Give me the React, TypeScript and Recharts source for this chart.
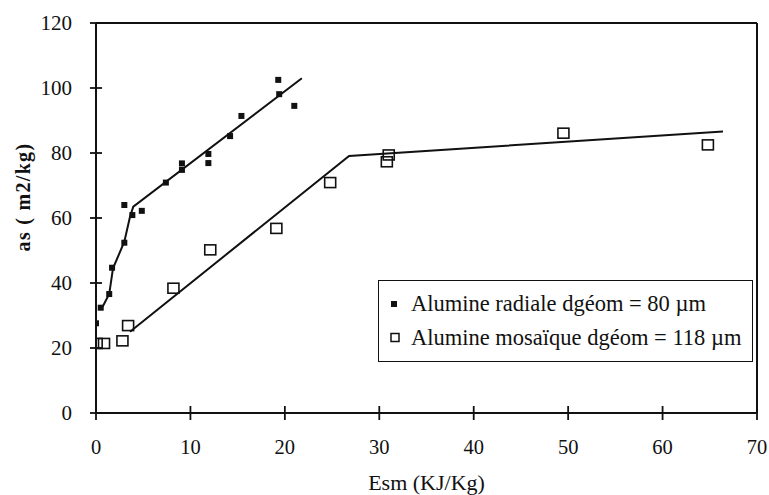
import React from "react";
import {
  ComposedChart,
  Scatter,
  XAxis,
  YAxis,
  ReferenceLine,
  Label,
} from "recharts";

// Alumine radiale dgéom = 80 µm (filled squares)
const radialeX = [0, 0.5, 1.4, 1.7, 3.0, 3.0, 3.85, 4.85, 7.4, 9.1, 9.1, 11.9, 11.9, 14.2, 15.4, 19.3, 19.4, 21.0];
const radialeY = [27.6, 32.4, 36.6, 44.7, 52.4, 64.0, 60.9, 62.2, 70.9, 76.8, 74.8, 79.7, 76.9, 85.2, 91.4, 102.5, 98.1, 94.5];
const radialeFitX = [0.7, 1.4, 1.8, 3.0, 3.6, 3.95, 21.8];
const radialeFitY = [32.7, 36.6, 44.5, 52.7, 60.4, 63.5, 103];

// Alumine mosaïque dgéom = 118 µm (open squares)
const mosaiqueX = [0.07, 0.85, 2.8, 3.4, 8.2, 12.1, 19.1, 24.8, 30.8, 31.0, 49.5, 64.8];
const mosaiqueY = [21.4, 21.4, 22.2, 26.9, 38.4, 50.2, 56.8, 70.9, 77.3, 79.4, 86.1, 82.5];
const mosaiqueFitX = [3.6, 26.8, 66.4];
const mosaiqueFitY = [25, 79.1, 86.6];

const xTicks = [0, 10, 20, 30, 40, 50, 60, 70];
const yTicks = [0, 20, 40, 60, 80, 100, 120];

const legendLabels = ["Alumine radiale dgéom = 80 µm", "Alumine mosaïque dgéom = 118 µm"];

const toPoints = (xs: number[], ys: number[]) => xs.map((x, i) => ({ x, y: ys[i] }));

const INK = "#111";
const FONT = "Liberation Serif";

function XTick(props: any) {
  const { x, y, payload } = props;
  const axisY = y - 26;
  return (
    <g>
      <line x1={x} x2={x} y1={axisY - 7} y2={axisY + 7} stroke={INK} strokeWidth={1.8} />
      <text className="serif" x={x} y={y} dy="0.71em" textAnchor="middle" fontSize={20.5} fill={INK}>
        {payload.value}
      </text>
    </g>
  );
}

function YTick(props: any) {
  const { x, y, payload } = props;
  const axisX = x + 24;
  return (
    <g>
      <line x1={axisX - 6} x2={axisX + 6} y1={y} y2={y} stroke={INK} strokeWidth={1.8} />
      <text className="serif" x={x} y={y} dy="0.35em" textAnchor="end" fontSize={21} fill={INK}>
        {payload.value}
      </text>
    </g>
  );
}

const FilledSquare = (p: any) => <rect x={p.cx - 3} y={p.cy - 3} width={6} height={6} fill={INK} />;
const OpenSquare = (p: any) => (
  <rect x={p.cx - 5.5} y={p.cy - 5} width={11} height={10} fill="none" stroke={INK} strokeWidth={1.6} />
);
const NoShape = () => <g />;

export default function App() {
  return (
    <div
      className="serif"
      style={{
        position: "absolute",
        left: 0,
        top: 0,
        width: 769,
        height: 495,
        background: "#fff",
      }}
    >
      <style>{`
        body { margin: 0; }
        .serif, .serif * { font-family: "${FONT}", "Times New Roman", Times, serif !important; }
      `}</style>
      <ComposedChart width={769} height={495} margin={{ top: 23, right: 12, left: 10, bottom: 0 }}>
        <XAxis
          dataKey="x"
          type="number"
          domain={[0, 70]}
          ticks={xTicks}
          tick={<XTick />}
          tickSize={0}
          tickMargin={26}
          height={82}
          axisLine={{ stroke: INK, strokeWidth: 2 }}
          allowDataOverflow
        >
          <Label
            content={(lp: any) => {
              const vb = lp.viewBox;
              return (
                <text
                  className="serif"
                  x={vb.x + vb.width / 2}
                  y={vb.y + vb.height - 5}
                  textAnchor="middle"
                  fontSize={22}
                  fill={INK}
                >
                  Esm (KJ/Kg)
                </text>
              );
            }}
          />
        </XAxis>
        <YAxis
          dataKey="y"
          type="number"
          domain={[0, 120]}
          ticks={yTicks}
          tick={<YTick />}
          tickSize={0}
          tickMargin={24}
          width={86}
          axisLine={{ stroke: INK, strokeWidth: 2 }}
          allowDataOverflow
        >
          <Label
            content={(lp: any) => {
              const vb = lp.viewBox;
              const cx = vb.x + 13;
              const cy = vb.y + vb.height / 2 - 21;
              return (
                <text
                  className="serif"
                  x={cx}
                  y={cy}
                  transform={`rotate(-90 ${cx} ${cy})`}
                  textAnchor="middle"
                  dominantBaseline="central"
                  fontSize={20}
                  fontWeight="bold"
                  letterSpacing={1.3}
                  fill={INK}
                >
                  as ( m2/kg)
                </text>
              );
            }}
          />
        </YAxis>
        <ReferenceLine y={120} stroke={INK} strokeWidth={2} />
        <ReferenceLine x={70} stroke={INK} strokeWidth={2} />

        <Scatter
          data={toPoints(radialeFitX, radialeFitY)}
          line={{ stroke: INK, strokeWidth: 2 }}
          shape={NoShape}
          isAnimationActive={false}
        />
        <Scatter
          data={toPoints(mosaiqueFitX, mosaiqueFitY)}
          line={{ stroke: INK, strokeWidth: 2 }}
          shape={NoShape}
          isAnimationActive={false}
        />
        <Scatter data={toPoints(radialeX, radialeY)} shape={FilledSquare} isAnimationActive={false} />
        <Scatter data={toPoints(mosaiqueX, mosaiqueY)} shape={OpenSquare} isAnimationActive={false} />
      </ComposedChart>

      {/* legend box */}
      <div
        style={{
          position: "absolute",
          left: 378,
          top: 280,
          width: 375,
          height: 82,
          boxSizing: "border-box",
          border: `1.5px solid ${INK}`,
          background: "#fff",
          fontSize: 22.5,
          color: INK,
          paddingTop: 6,
        }}
      >
        {legendLabels.map((label, i) => (
          <div key={label} style={{ display: "flex", alignItems: "center", height: 34 }}>
            <svg width={32} height={20} style={{ flex: "none" }}>
              {i === 0 ? (
                <rect x={12} y={7} width={6} height={6} fill={INK} />
              ) : (
                <rect x={12} y={5.5} width={8} height={8} fill="none" stroke={INK} strokeWidth={1.5} />
              )}
            </svg>
            <span style={{ whiteSpace: "nowrap" }}>{label}</span>
          </div>
        ))}
      </div>
    </div>
  );
}
